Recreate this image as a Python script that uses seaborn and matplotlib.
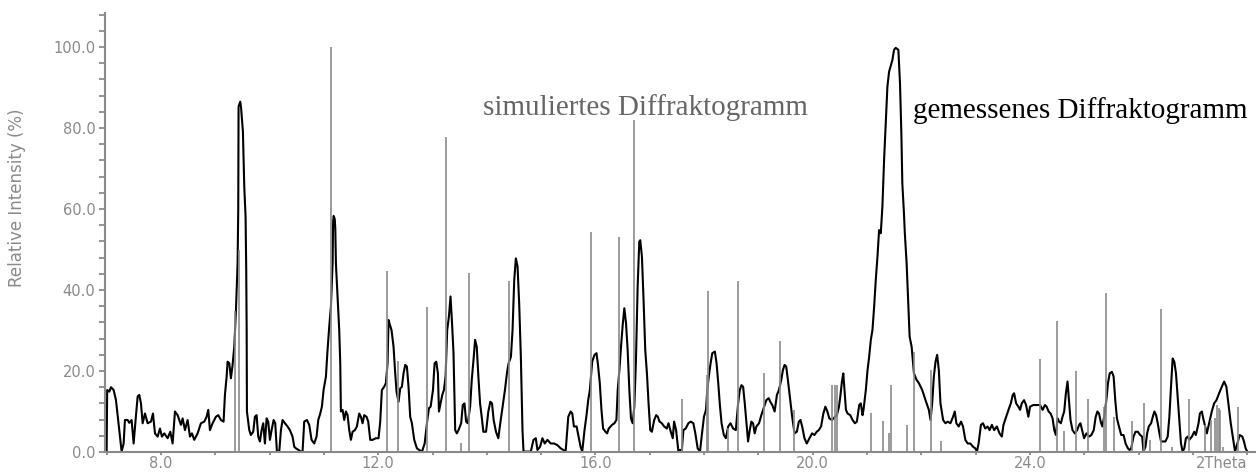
"""
XRD comparison: measured diffractogram (black trace) against the
simulated stick pattern (grey lines).
"""

import matplotlib
matplotlib.use("Agg")
import matplotlib.pyplot as plt
import matplotlib.transforms as mtransforms
from matplotlib.ticker import MultipleLocator, FixedLocator, FormatStrFormatter
import seaborn as sns

meas_x = [
    7.000, 7.010, 7.049, 7.080, 7.129, 7.172, 7.202, 7.233, 7.276, 7.313,
    7.337, 7.387, 7.417, 7.460, 7.497, 7.528, 7.571, 7.601, 7.632, 7.663,
    7.706, 7.755, 7.816, 7.853, 7.890, 7.939, 7.982, 8.018, 8.061, 8.123,
    8.172, 8.215, 8.258, 8.307, 8.368, 8.399, 8.442, 8.491, 8.534, 8.571,
    8.613, 8.675, 8.736, 8.798, 8.840, 8.871, 8.902, 8.951, 9.012, 9.055,
    9.104, 9.153, 9.178, 9.209, 9.227, 9.258, 9.288, 9.319, 9.350, 9.380,
    9.411, 9.423, 9.429, 9.460, 9.475, 9.509, 9.534, 9.558, 9.570, 9.578,
    9.583, 9.626, 9.656, 9.699, 9.730, 9.761, 9.791, 9.822, 9.853, 9.883,
    9.914, 9.945, 9.975, 10.006, 10.037, 10.074, 10.104, 10.135, 10.178, 10.209,
    10.239, 10.282, 10.331, 10.374, 10.423, 10.454, 10.485, 10.534, 10.577, 10.607,
    10.638, 10.687, 10.730, 10.773, 10.822, 10.865, 10.896, 10.933, 10.963, 10.994,
    11.037, 11.067, 11.098, 11.129, 11.160, 11.170, 11.180, 11.200, 11.210, 11.221,
    11.252, 11.282, 11.301, 11.313, 11.344, 11.374, 11.405, 11.436, 11.466, 11.497,
    11.528, 11.571, 11.607, 11.650, 11.681, 11.712, 11.742, 11.785, 11.816, 11.853,
    11.896, 11.957, 12.006, 12.037, 12.067, 12.110, 12.141, 12.172, 12.190, 12.215,
    12.245, 12.282, 12.313, 12.337, 12.374, 12.405, 12.436, 12.466, 12.497, 12.528,
    12.558, 12.589, 12.620, 12.663, 12.712, 12.755, 12.806, 12.855, 12.904, 12.934,
    12.965, 13.008, 13.038, 13.069, 13.099, 13.118, 13.148, 13.179, 13.209, 13.240,
    13.270, 13.301, 13.331, 13.356, 13.386, 13.417, 13.447, 13.478, 13.527, 13.557,
    13.588, 13.618, 13.649, 13.692, 13.722, 13.759, 13.783, 13.814, 13.844, 13.875,
    13.905, 13.936, 13.985, 14.027, 14.064, 14.095, 14.125, 14.168, 14.211, 14.247,
    14.290, 14.333, 14.369, 14.400, 14.443, 14.473, 14.504, 14.534, 14.565, 14.595,
    14.626, 14.656, 14.675, 14.809, 14.858, 14.901, 14.931, 14.980, 15.023, 15.066,
    15.115, 15.176, 15.237, 15.298, 15.359, 15.408, 15.450, 15.499, 15.542, 15.573,
    15.603, 15.652, 15.695, 15.725, 15.756, 15.798, 15.835, 15.866, 15.896, 15.939,
    15.982, 16.018, 16.043, 16.079, 16.110, 16.140, 16.183, 16.214, 16.244, 16.305,
    16.348, 16.385, 16.409, 16.440, 16.470, 16.501, 16.531, 16.562, 16.592, 16.623,
    16.653, 16.684, 16.715, 16.745, 16.776, 16.806, 16.824, 16.855, 16.885, 16.916,
    16.947, 16.977, 17.008, 17.038, 17.081, 17.118, 17.148, 17.179, 17.221, 17.264,
    17.313, 17.344, 17.386, 17.423, 17.447, 17.484, 17.527, 17.557, 17.588, 17.618,
    17.661, 17.710, 17.753, 17.802, 17.838, 17.881, 17.924, 17.954, 17.997, 18.034,
    18.058, 18.089, 18.119, 18.150, 18.198, 18.229, 18.260, 18.290, 18.321, 18.363,
    18.400, 18.443, 18.485, 18.534, 18.583, 18.626, 18.656, 18.687, 18.718, 18.748,
    18.779, 18.809, 18.840, 18.870, 18.901, 18.931, 18.962, 19.011, 19.053, 19.096,
    19.145, 19.188, 19.218, 19.255, 19.298, 19.340, 19.377, 19.420, 19.450, 19.481,
    19.511, 19.542, 19.585, 19.621, 19.664, 19.707, 19.744, 19.774, 19.805, 19.847,
    19.890, 19.939, 19.988, 20.031, 20.073, 20.110, 20.153, 20.195, 20.232, 20.269,
    20.305, 20.354, 20.397, 20.440, 20.480, 20.507, 20.537, 20.562, 20.580, 20.611,
    20.641, 20.690, 20.733, 20.776, 20.812, 20.855, 20.885, 20.916, 20.934, 20.977,
    21.008, 21.038, 21.069, 21.099, 21.130, 21.160, 21.191, 21.221, 21.252, 21.282,
    21.313, 21.344, 21.374, 21.405, 21.466, 21.496, 21.527, 21.576, 21.606, 21.631,
    21.649, 21.679, 21.695, 21.728, 21.753, 21.783, 21.820, 21.863, 21.911, 21.954,
    22.015, 22.076, 22.137, 22.168, 22.198, 22.229, 22.260, 22.290, 22.321, 22.351,
    22.400, 22.443, 22.485, 22.534, 22.583, 22.614, 22.644, 22.687, 22.730, 22.766,
    22.809, 22.852, 22.901, 22.950, 22.992, 23.023, 23.053, 23.096, 23.133, 23.176,
    23.218, 23.255, 23.298, 23.340, 23.389, 23.438, 23.481, 23.511, 23.560, 23.603,
    23.646, 23.682, 23.707, 23.744, 23.786, 23.817, 23.847, 23.890, 23.927, 23.969,
    24.000, 24.061, 24.122, 24.183, 24.232, 24.275, 24.305, 24.342, 24.379, 24.415,
    24.446, 24.476, 24.507, 24.537, 24.568, 24.598, 24.629, 24.660, 24.690, 24.721,
    24.745, 24.782, 24.824, 24.867, 24.904, 24.928, 24.965, 24.995, 25.038, 25.087,
    25.130, 25.173, 25.209, 25.240, 25.270, 25.301, 25.331, 25.374, 25.405, 25.435,
    25.466, 25.508, 25.539, 25.569, 25.600, 25.637, 25.679, 25.722, 25.759, 25.802,
    25.832, 25.863, 25.905, 25.942, 25.985, 26.027, 26.064, 26.089, 26.125, 26.156,
    26.186, 26.229, 26.260, 26.290, 26.321, 26.351, 26.382, 26.412, 26.443, 26.492,
    26.534, 26.565, 26.595, 26.626, 26.656, 26.687, 26.718, 26.748, 26.779, 26.809,
    26.840, 26.870, 26.901, 26.931, 26.980, 27.023, 27.053, 27.102, 27.127, 27.163,
    27.188, 27.224, 27.255, 27.298, 27.346, 27.389, 27.432, 27.481, 27.530, 27.573,
    27.615, 27.652, 27.695, 27.737, 27.774, 27.817, 27.860, 27.908, 27.939, 27.969,
    28.000,
]
meas_y = [
    0.0, 15.3, 14.9, 16.0, 15.3, 12.8, 9.1, 5.4, 0.1, 2.1,
    7.9, 7.9, 7.2, 7.9, 2.1, 7.1, 13.7, 14.1, 12.0, 7.1,
    9.5, 7.1, 7.5, 9.5, 4.6, 3.8, 5.8, 3.8, 4.6, 3.4,
    5.0, 2.1, 10.0, 9.1, 6.7, 8.3, 5.4, 7.9, 3.8, 4.6,
    3.0, 4.6, 7.1, 7.5, 8.7, 10.4, 5.4, 7.1, 8.7, 9.1,
    7.9, 7.5, 14.1, 18.6, 22.3, 21.9, 18.2, 21.5, 26.0, 34.7,
    46.6, 59.8, 85.3, 86.5, 85.0, 79.1, 65.5, 58.1, 45.0, 30.0,
    10.0, 5.4, 4.2, 5.0, 8.7, 9.1, 3.8, 2.6, 5.4, 7.1,
    2.1, 8.3, 7.5, 3.0, 5.4, 7.9, 7.1, 0.1, 0.1, 5.4,
    7.9, 7.1, 6.3, 5.4, 3.8, 1.3, 0.9, 0.5, 0.1, 0.1,
    7.5, 7.9, 6.7, 3.0, 2.1, 3.8, 7.9, 9.5, 11.2, 15.3,
    18.6, 25.2, 30.9, 35.9, 46.6, 57.0, 58.3, 57.5, 55.0, 46.6,
    38.4, 30.1, 21.9, 10.0, 10.4, 7.9, 10.0, 9.1, 5.4, 3.0,
    5.0, 5.4, 6.3, 9.5, 8.7, 7.1, 9.1, 8.7, 7.5, 3.0,
    3.0, 3.4, 3.4, 7.5, 15.3, 16.1, 17.0, 21.9, 32.6, 31.4,
    30.1, 26.0, 19.4, 14.9, 12.4, 15.7, 16.1, 19.4, 21.5, 21.1,
    16.1, 8.7, 7.1, 3.0, 0.9, 0.5, 0.1, 2.1, 7.9, 10.8,
    11.2, 15.3, 21.9, 22.3, 19.4, 10.0, 12.0, 14.1, 15.3, 18.6,
    30.1, 33.4, 38.4, 32.6, 24.4, 5.4, 4.6, 5.4, 7.1, 11.6,
    12.0, 7.5, 7.1, 11.2, 17.8, 23.5, 27.7, 26.0, 18.6, 12.0,
    8.7, 5.0, 5.0, 10.0, 12.4, 12.0, 7.9, 5.0, 3.4, 7.1,
    11.2, 15.3, 19.4, 21.9, 23.5, 30.1, 42.5, 47.8, 45.8, 36.7,
    23.5, 5.4, 0.1, 0.1, 3.0, 3.4, 0.5, 1.3, 3.4, 2.1,
    3.0, 2.1, 2.1, 1.7, 0.9, 0.5, 0.1, 8.7, 10.0, 9.5,
    6.3, 6.3, 3.4, 1.3, 0.1, 5.4, 9.1, 12.8, 15.3, 22.3,
    24.0, 24.4, 21.9, 17.0, 10.4, 5.8, 5.0, 4.6, 5.8, 6.7,
    7.1, 7.9, 15.3, 20.2, 26.0, 31.4, 35.5, 31.8, 25.2, 15.3,
    8.3, 7.1, 11.2, 22.7, 40.8, 51.9, 52.3, 48.2, 37.5, 25.2,
    19.4, 12.0, 5.4, 5.0, 7.9, 9.1, 8.7, 7.5, 7.1, 6.3,
    5.8, 7.1, 5.0, 3.4, 7.5, 5.4, 0.1, 0.5, 0.1, 5.4,
    5.8, 7.1, 7.5, 7.1, 4.6, 0.9, 0.1, 3.8, 8.7, 10.4,
    15.3, 19.0, 21.9, 24.4, 24.8, 21.9, 17.0, 11.6, 7.1, 4.2,
    3.4, 6.3, 7.1, 5.8, 5.4, 12.0, 15.3, 16.5, 16.1, 12.0,
    7.1, 2.6, 5.4, 7.5, 7.1, 4.6, 6.3, 7.1, 9.1, 10.8,
    12.8, 13.3, 12.4, 11.6, 10.0, 14.1, 15.3, 17.8, 20.2, 21.5,
    21.1, 17.8, 12.8, 8.7, 4.6, 5.0, 7.5, 7.9, 6.3, 3.4,
    2.1, 3.4, 4.6, 4.2, 5.0, 5.4, 6.3, 9.5, 11.2, 10.0,
    8.3, 7.9, 8.5, 9.0, 11.0, 13.7, 17.4, 19.4, 16.1, 10.4,
    9.5, 9.1, 7.9, 7.1, 7.5, 11.6, 12.0, 9.1, 10.4, 15.3,
    20.2, 23.5, 27.7, 30.1, 35.9, 42.5, 48.2, 54.8, 54.0, 60.6,
    72.1, 81.2, 90.2, 93.9, 96.8, 99.3, 99.8, 99.3, 91.0, 78.7,
    66.3, 58.9, 54.0, 46.6, 38.4, 28.5, 26.0, 19.4, 17.8, 17.0,
    15.3, 12.8, 10.4, 7.9, 12.0, 18.6, 22.3, 24.0, 20.2, 12.0,
    7.9, 7.1, 7.5, 7.1, 8.7, 10.0, 7.1, 6.3, 7.5, 6.3,
    3.0, 2.1, 2.1, 1.3, 0.9, 0.1, 2.1, 6.7, 7.1, 5.8,
    6.3, 5.4, 6.7, 5.4, 6.3, 4.6, 3.8, 6.7, 8.7, 10.4,
    12.0, 14.1, 14.5, 12.0, 11.2, 10.4, 12.0, 12.8, 11.6, 8.7,
    11.2, 11.6, 11.6, 11.6, 10.4, 11.6, 11.2, 10.0, 9.5, 8.3,
    5.4, 4.2, 8.3, 7.5, 7.1, 8.7, 10.0, 14.5, 17.4, 12.0,
    7.9, 5.4, 4.6, 5.4, 6.7, 7.1, 5.0, 3.4, 4.6, 3.8,
    4.2, 5.4, 8.7, 10.0, 9.5, 7.5, 6.3, 9.5, 12.8, 17.0,
    19.4, 19.8, 18.6, 12.8, 8.3, 6.3, 4.2, 4.2, 2.1, 0.9,
    0.5, 0.9, 3.8, 5.0, 5.0, 4.2, 3.8, 0.1, 1.3, 4.6,
    6.3, 7.1, 8.7, 10.0, 9.1, 7.1, 4.6, 2.6, 2.6, 2.6,
    3.8, 8.7, 16.1, 23.1, 22.3, 19.4, 13.7, 7.9, 2.1, 0.1,
    0.9, 3.4, 3.8, 3.0, 3.8, 5.0, 4.2, 7.1, 9.5, 10.0,
    8.3, 6.3, 4.6, 7.1, 10.0, 12.0, 12.8, 14.5, 16.1, 17.4,
    16.1, 12.0, 7.1, 3.4, 0.1, 2.1, 4.2, 3.8, 2.6, 0.9,
    0.1,
]

# simulated reflections (2Theta, relative intensity %)
stick_x = [
    9.36, 9.43, 11.13, 12.16, 12.37, 12.90, 13.24, 13.53, 13.68, 14.41,
    15.91, 16.43, 16.71, 17.59, 18.05, 18.08, 18.44, 18.63, 19.10, 19.39,
    19.65, 20.36, 20.41, 20.45, 21.08, 21.29, 21.40, 21.44, 21.74, 21.87,
    22.17, 22.36, 24.18, 24.49, 24.63, 24.84, 25.07, 25.36, 25.39, 25.54,
    25.87, 26.09, 26.21, 26.42, 26.61, 26.93, 27.22, 27.33, 27.41, 27.44,
    27.47, 27.49, 27.56, 27.82,
]
stick_h = [
    34.7, 50.0, 100.0, 44.7, 22.5, 35.9, 77.9, 2.1, 44.3, 42.2,
    54.4, 53.0, 82.1, 13.0, 19.0, 39.8, 6.0, 42.2, 19.4, 27.4,
    10.4, 16.5, 16.5, 16.5, 9.7, 7.7, 4.8, 16.5, 6.7, 24.8,
    20.3, 2.7, 22.9, 32.3, 5.2, 20.0, 13.0, 11.2, 39.3, 8.6,
    7.7, 12.0, 3.0, 35.2, 1.3, 13.0, 6.7, 7.9, 8.3, 11.6,
    10.8, 10.4, 1.3, 11.0,
]

x_major = [8, 12, 16, 20, 24]
y_major = [0, 20, 40, 60, 80, 100]

GRAY = "#8a8a8a"

sns.set_theme(style="white")
plt.rcParams["font.family"] = ["DejaVu Sans"]

fig = plt.figure(figsize=(12.56, 4.72), dpi=100)
ax = fig.add_axes([105 / 1256, 20 / 472, 1151 / 1256, 439 / 472])

sns.lineplot(x=meas_x, y=meas_y, estimator=None, sort=False,
             color="black", linewidth=1.5, ax=ax, zorder=2)
ax.vlines(stick_x, 0, stick_h, color=GRAY, linewidth=1.2, zorder=3)

ax.set_xlim(6.97, 28.16)
ax.set_ylim(0, 108.4)

sns.despine(ax=ax)
for side in ("left", "bottom"):
    ax.spines[side].set_color(GRAY)
    ax.spines[side].set_linewidth(1.5)

ax.xaxis.set_major_locator(FixedLocator(x_major))
ax.xaxis.set_minor_locator(MultipleLocator(1))
ax.yaxis.set_major_locator(FixedLocator(y_major))
ax.yaxis.set_minor_locator(MultipleLocator(4))
ax.xaxis.set_major_formatter(FormatStrFormatter("%.1f"))
ax.yaxis.set_major_formatter(FormatStrFormatter("%.1f"))

ax.tick_params(axis="y", which="both", left=True, direction="out", length=4.6,
               width=1.3, color=GRAY, labelcolor=GRAY, labelsize=10.5, pad=2.4)
ax.tick_params(axis="x", which="both", bottom=True, direction="out", length=2.2,
               width=1.3, color=GRAY, labelcolor=GRAY, labelsize=10.5, pad=1.0)

ax.set_ylabel("Relative Intensity (%)", color=GRAY, fontsize=12)
ax.yaxis.label.set_verticalalignment("center")
ax.yaxis.set_label_coords(-0.0765, 0.579)

# axis title sits where the 28.0 label would be
trans = mtransforms.blended_transform_factory(ax.transData, ax.transAxes)
ax.text(28.0, -0.0102, "2Theta", transform=trans, ha="right", va="top",
        color=GRAY, fontsize=10.5)

serif = ["Liberation Serif", "DejaVu Serif"]
ax.text(13.93, 83.2, "simuliertes Diffraktogramm", family=serif, fontsize=21,
        color="#666666", ha="left", va="baseline")
ax.text(21.85, 82.5, "gemessenes Diffraktogramm", family=serif, fontsize=21,
        color="black", ha="left", va="baseline")

fig.savefig("out.png", dpi=100)
plt.close(fig)
